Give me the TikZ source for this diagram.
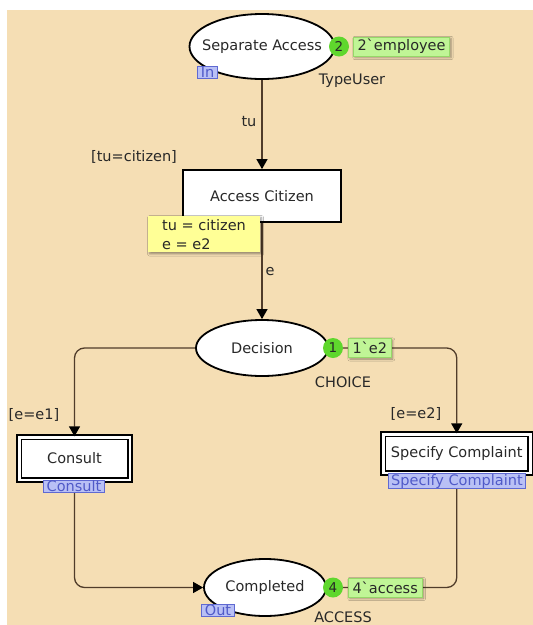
\documentclass[tikz,border=0pt]{standalone}
\usepackage{fontspec}
\setmainfont{DejaVu Sans}
\usetikzlibrary{arrows.meta, shapes.geometric, positioning, shadows.blur}
\definecolor{cpnbg}{RGB}{245,222,180}
\definecolor{arccol}{RGB}{80,60,42}
\definecolor{inktext}{RGB}{40,40,40}
\definecolor{tokgreen}{RGB}{95,215,45}
\definecolor{marklite}{RGB}{192,245,150}
\definecolor{markedge}{RGB}{150,215,105}
\definecolor{bindyel}{RGB}{255,255,150}
\definecolor{tagfill}{RGB}{185,192,245}
\definecolor{tagedge}{RGB}{95,105,210}
\definecolor{tagtext}{RGB}{80,90,200}
\tikzset{
  every node/.append style={align=center, text=inktext,
                            font=\fontsize{14.5}{17}\selectfont},
  place/.style={ellipse, draw=black, line width=1.8pt, fill=white, inner sep=0pt},
  trans/.style={rectangle, draw=black, line width=1.8pt, fill=white, inner sep=0pt},
  subst/.style={trans, line width=1.8pt, double=white, double distance=2.5pt},
  arcline/.style={draw=arccol, line width=1.3pt, rounded corners=10pt},
  arc/.style={arcline, -{Triangle[width=11pt, length=10pt, color=black]}},
  tokcirc/.style={circle, fill=tokgreen, inner sep=0pt, minimum size=20pt,
                  font=\fontsize{13.5}{15}\selectfont},
  markbox/.style={fill=marklite, draw=markedge, line width=0.6pt,
                  inner xsep=4pt, inner ysep=2pt, minimum height=19pt,
                  blur shadow={shadow xshift=1.5pt, shadow yshift=-1.5pt,
                               shadow blur steps=4, shadow opacity=40}},
  bindbox/.style={fill=bindyel, align=left, inner xsep=14pt, inner ysep=3pt,
                  font=\fontsize{14.5}{19}\selectfont,
                  blur shadow={shadow xshift=1.5pt, shadow yshift=-1.5pt,
                               shadow blur steps=4, shadow opacity=40}},
  tag/.style={fill=tagfill, draw=tagedge, line width=0.8pt, text=tagtext,
              inner xsep=3pt, inner ysep=0.5pt}
}

\begin{document}
\begin{tikzpicture}[x=1pt,y=-1pt]

% ── Canvas ───────────────────────────────────────────────────────────────────
\useasboundingbox (0,0) rectangle (533,625);
\fill[white] (0,0) rectangle (533,625);
\fill[cpnbg] (7,10) rectangle (533,625);

% ── Places ───────────────────────────────────────────────────────────────────
\node[place, minimum width=145pt, minimum height=65pt,
      label=center:{Separate Access}] (sepacc) at (262,46.5) {};
\node[place, minimum width=132pt, minimum height=56pt,
      label=center:Decision] (decision) at (262,348) {};
\node[place, minimum width=122pt, minimum height=57pt,
      label=center:Completed] (completed) at (265,587.5) {};

% ── Transitions ──────────────────────────────────────────────────────────────
\node[trans, minimum width=158pt, minimum height=52pt] (acccit) at (262,196) {Access Citizen};
\node[subst, minimum width=110.5pt, minimum height=42.5pt] (consult) at (74.5,458.5) {Consult};
\node[subst, minimum width=147pt, minimum height=38.5pt] (specify) at (456.75,453.5) {Specify Complaint};

% ── Arcs ─────────────────────────────────────────────────────────────────────
\draw[arc] (sepacc) -- (acccit);
\draw[arc] (acccit) -- (decision);
\draw[arc] (decision.west) -| (consult.north);
\draw[arc] (decision.east) -| (specify.north);
\draw[arc] (consult.south) |- (completed.west);
\draw[arcline] (specify.south) |- (completed.east);

% ── Arc inscriptions and guards ──────────────────────────────────────────────
\node (instu) at (249,122) {tu};
\node (guardcit) at (134,157) {[tu=citizen]};
\node (inse) at (270,272) {e};
\node (guarde1) at (34,415) {[e=e1]};
\node (guarde2) at (416,414) {[e=e2]};

% ── Colour sets ──────────────────────────────────────────────────────────────
\node (csuser) at (352,81) {TypeUser};
\node (cschoice) at (343,382) {CHOICE};
\node (csaccess) at (343,617) {ACCESS};

% ── Current markings ─────────────────────────────────────────────────────────
\node[tokcirc] (tok2) at (339,46.5) {2};
\node[markbox, right=4pt of tok2] (mark2) {2\textasciigrave employee};
\node[tokcirc] (tok1) at (333,348) {1};
\node[markbox, right=5pt of tok1] (mark1) {1\textasciigrave e2};
\node[tokcirc] (tok4) at (333,587.5) {4};
\node[markbox, right=5pt of tok4] (mark4) {4\textasciigrave access};

% ── Binding of Access Citizen ────────────────────────────────────────────────
\node[bindbox, anchor=north west] (bindcit) at (148,216) {tu = citizen\\e = e2};

% ── Port and subpage tags ────────────────────────────────────────────────────
\node[tag] (tagin) at (207.5,72.5) {In};
\node[tag] (tagcons) at (74,486.5) {Consult};
\node[tag] (tagspec) at (457,481) {Specify Complaint};
\node[tag] (tagout) at (218,610.5) {Out};

\end{tikzpicture}
\end{document}
